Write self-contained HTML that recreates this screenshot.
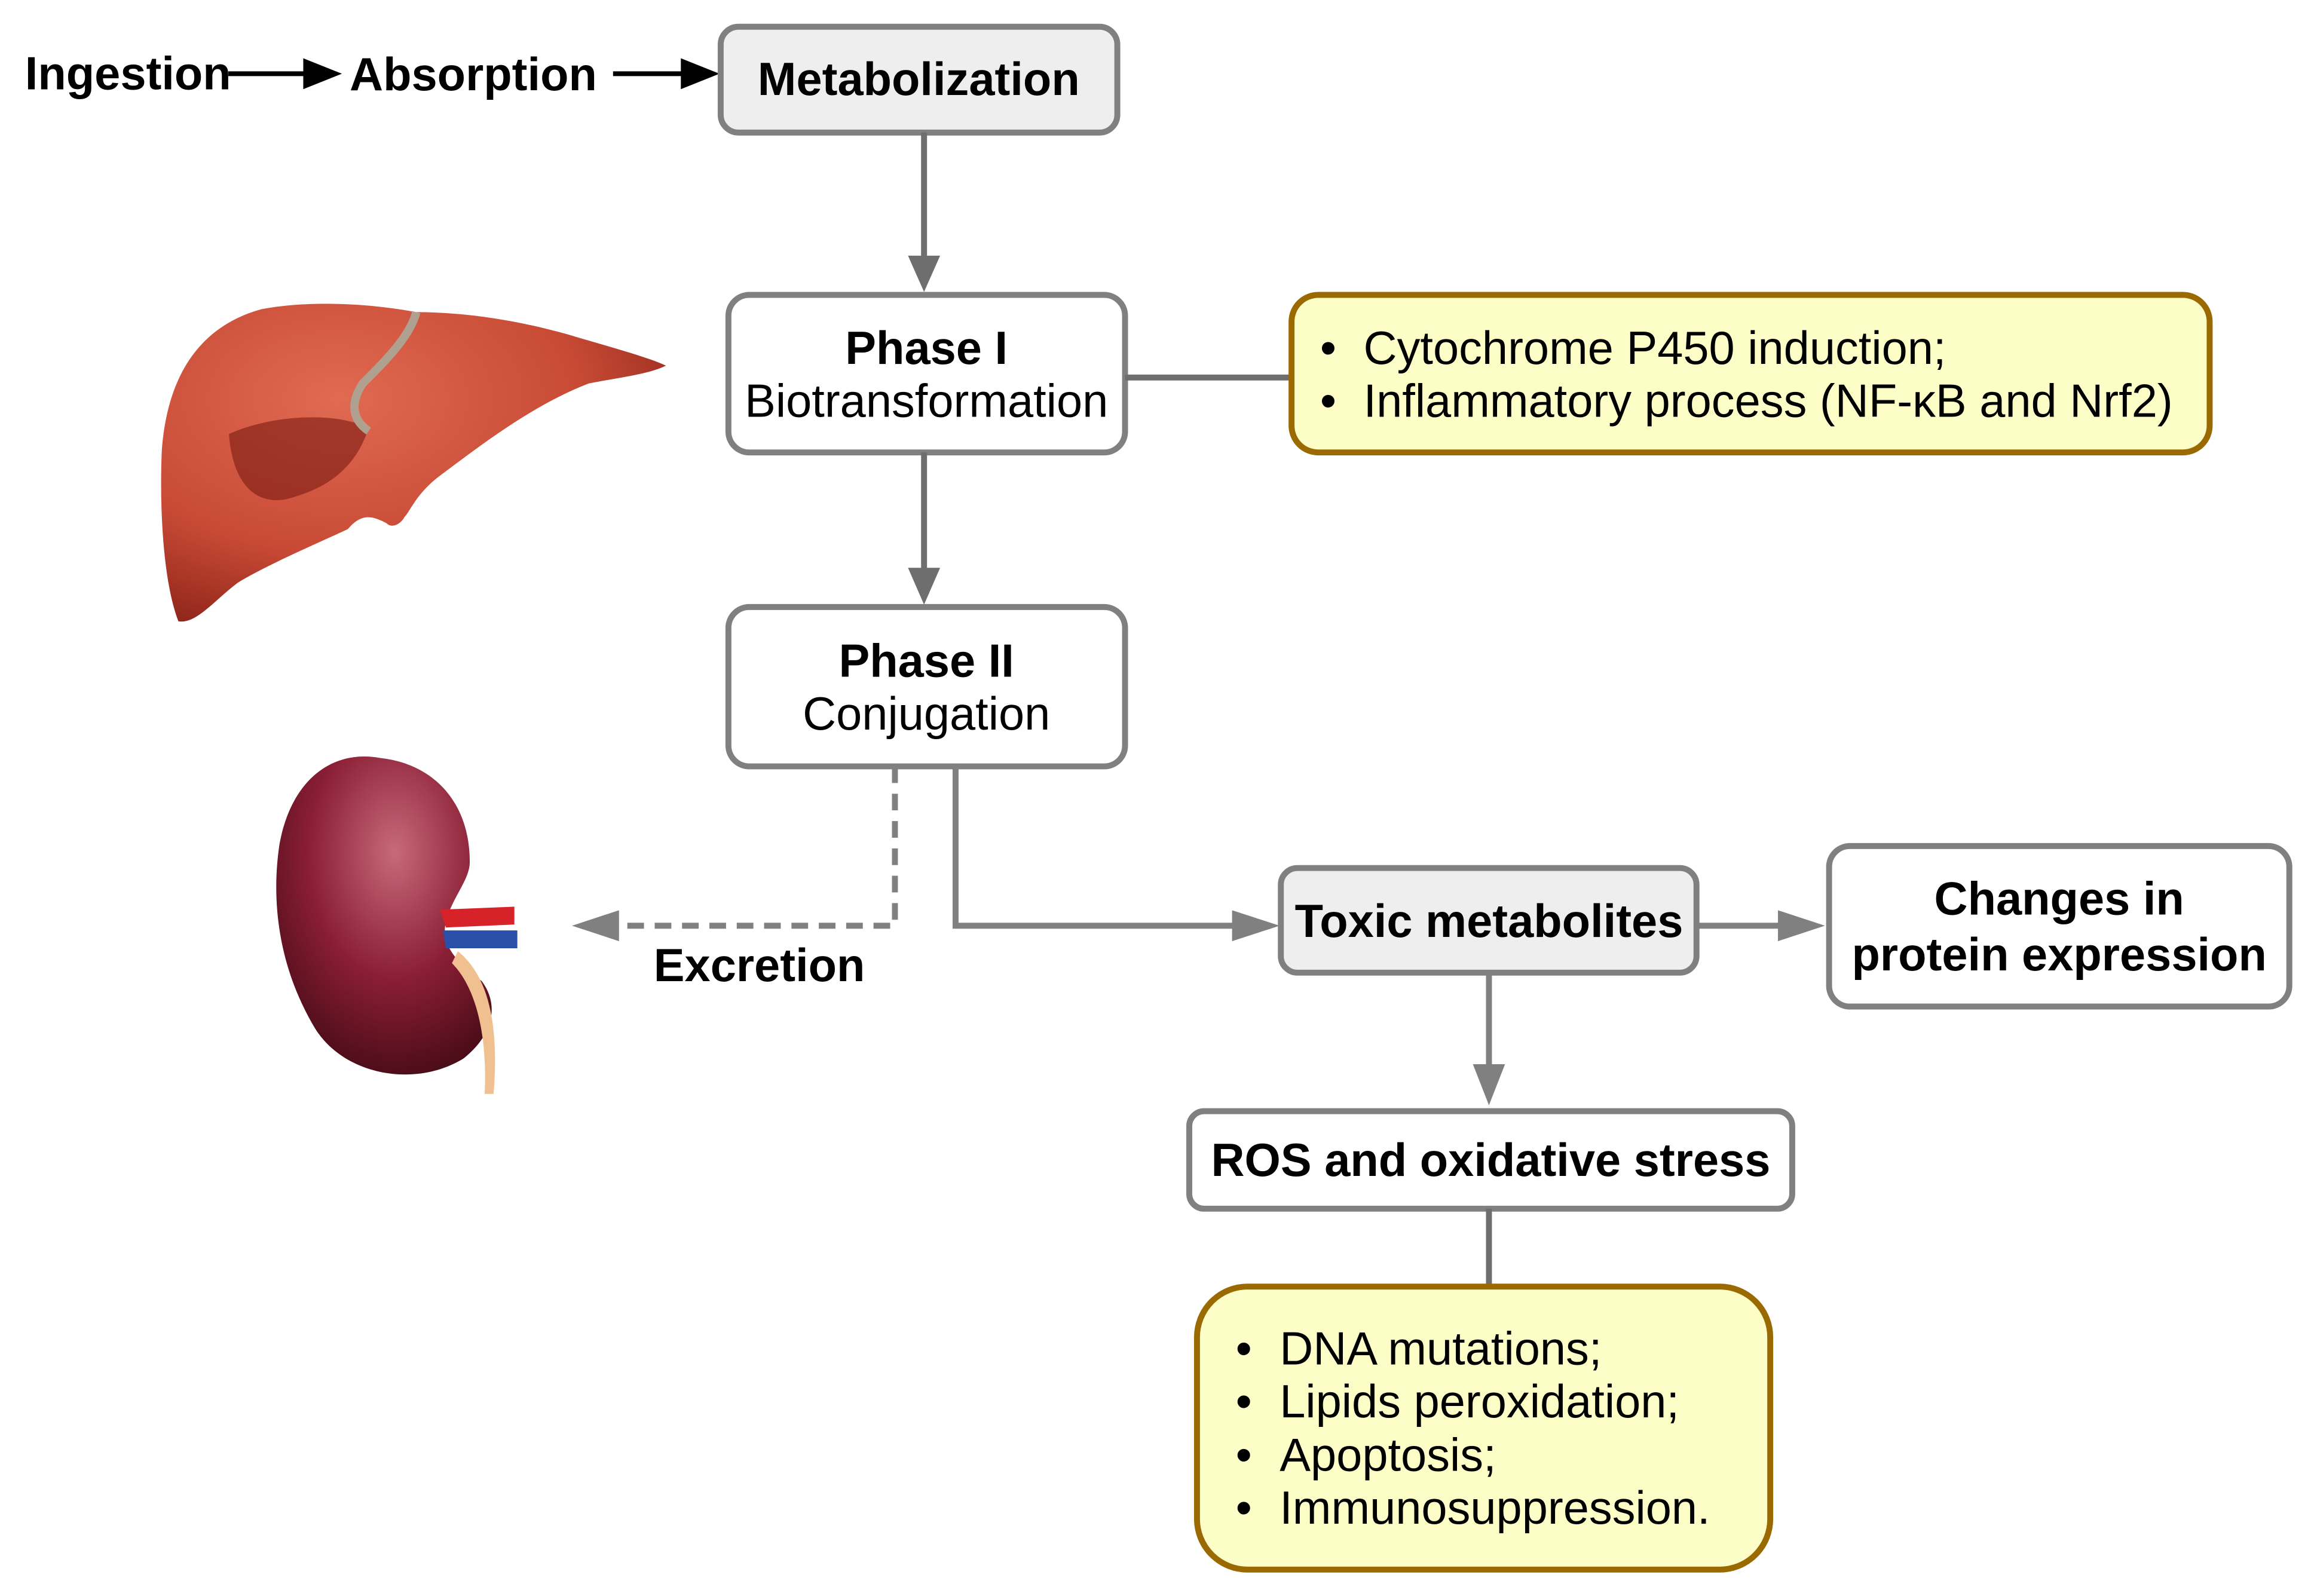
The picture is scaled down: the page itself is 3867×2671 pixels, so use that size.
<!DOCTYPE html>
<html><head><meta charset="utf-8"><style>
html,body{margin:0;padding:0;background:#fff}
svg{display:block}
text{font-family:"Liberation Sans",Arial,sans-serif;fill:#000}
.b{font-weight:bold}
</style></head><body>
<svg width="3867" height="2671" viewBox="0 0 3867 2671" xmlns="http://www.w3.org/2000/svg">
<defs>
<radialGradient id="lv" cx="0.35" cy="0.3" r="0.8"><stop offset="0" stop-color="#e06a52"/><stop offset="0.6" stop-color="#c84a35"/><stop offset="1" stop-color="#8a2218"/></radialGradient>
<radialGradient id="kd" cx="0.55" cy="0.3" r="0.8"><stop offset="0" stop-color="#c76a7a"/><stop offset="0.5" stop-color="#8a1e35"/><stop offset="1" stop-color="#3a0810"/></radialGradient>
</defs>
<g transform="scale(0.995)">
<text x="42" y="150" font-size="78" class="b">Ingestion</text>
<line x1="384" y1="124" x2="520" y2="124" stroke="#000" stroke-width="8"/>
<polygon points="510,98 575,124 510,150" fill="#000"/>
<text x="588" y="152" font-size="78" class="b">Absorption</text>
<line x1="1031" y1="124" x2="1150" y2="124" stroke="#000" stroke-width="8"/>
<polygon points="1145,98 1210,124 1145,150" fill="#000"/>

<rect x="1212" y="45" width="667" height="178" rx="30" fill="#eeeeee" stroke="#808080" stroke-width="10"/>
<text x="1545" y="160" font-size="78" class="b" text-anchor="middle">Metabolization</text>

<line x1="1554" y1="223" x2="1554" y2="440" stroke="#6e6e6e" stroke-width="10"/>
<polygon points="1527,430 1581,430 1554,491" fill="#6e6e6e"/>

<rect x="1225" y="496" width="667" height="265" rx="35" fill="#fff" stroke="#808080" stroke-width="10"/>
<text x="1558" y="612" font-size="78" class="b" text-anchor="middle">Phase I</text>
<text x="1558" y="701" font-size="78" text-anchor="middle">Biotransformation</text>

<line x1="1892" y1="635" x2="2172" y2="635" stroke="#6e6e6e" stroke-width="10"/>
<rect x="2172" y="496" width="1544" height="265" rx="45" fill="#fdfdc8" stroke="#9a6a00" stroke-width="10"/>
<text x="2220" y="612" font-size="78">•</text>
<text x="2293" y="612" font-size="78">Cytochrome P450 induction;</text>
<text x="2220" y="701" font-size="78">•</text>
<text x="2293" y="701" font-size="78">Inflammatory process (NF-κB and Nrf2)</text>

<line x1="1554" y1="761" x2="1554" y2="965" stroke="#6e6e6e" stroke-width="10"/>
<polygon points="1527,955 1581,955 1554,1017" fill="#6e6e6e"/>

<rect x="1225" y="1021" width="667" height="268" rx="35" fill="#fff" stroke="#808080" stroke-width="10"/>
<text x="1558" y="1138" font-size="78" class="b" text-anchor="middle">Phase II</text>
<text x="1558" y="1227" font-size="78" text-anchor="middle">Conjugation</text>

<polyline points="1505,1289 1505,1557 1035,1557" fill="none" stroke="#808080" stroke-width="10" stroke-dasharray="28,18"/>
<polygon points="1041,1531 1041,1583 962,1557" fill="#808080"/>
<text x="1277" y="1650" font-size="78" class="b" text-anchor="middle">Excretion</text>

<polyline points="1607,1289 1607,1557 2080,1557" fill="none" stroke="#808080" stroke-width="10"/>
<polygon points="2072,1531 2072,1583 2152,1557" fill="#808080"/>

<rect x="2154" y="1460" width="699" height="176" rx="28" fill="#eeeeee" stroke="#808080" stroke-width="10"/>
<text x="2504" y="1576" font-size="78" class="b" text-anchor="middle">Toxic metabolites</text>

<line x1="2853" y1="1557" x2="3000" y2="1557" stroke="#808080" stroke-width="10"/>
<polygon points="2990,1531 2990,1583 3069,1557" fill="#808080"/>

<rect x="3076" y="1423" width="774" height="270" rx="35" fill="#fff" stroke="#808080" stroke-width="10"/>
<text x="3463" y="1538" font-size="78" class="b" text-anchor="middle">Changes in</text>
<text x="3463" y="1632" font-size="78" class="b" text-anchor="middle">protein expression</text>

<line x1="2504" y1="1636" x2="2504" y2="1800" stroke="#808080" stroke-width="10"/>
<polygon points="2477,1790 2531,1790 2504,1859" fill="#808080"/>

<rect x="2000" y="1869" width="1014" height="164" rx="25" fill="#fff" stroke="#808080" stroke-width="10"/>
<text x="2507" y="1978" font-size="78" class="b" text-anchor="middle">ROS and oxidative stress</text>

<line x1="2504" y1="2033" x2="2504" y2="2164" stroke="#6e6e6e" stroke-width="10"/>
<rect x="2013" y="2164" width="964" height="476" rx="85" fill="#fdfdc8" stroke="#9a6a00" stroke-width="10"/>
<text x="2078" y="2295" font-size="78">•</text><text x="2152" y="2295" font-size="78">DNA mutations;</text>
<text x="2078" y="2384" font-size="78">•</text><text x="2152" y="2384" font-size="78">Lipids peroxidation;</text>
<text x="2078" y="2474" font-size="78">•</text><text x="2152" y="2474" font-size="78">Apoptosis;</text>
<text x="2078" y="2563" font-size="78">•</text><text x="2152" y="2563" font-size="78">Immunosuppression.</text>

<!-- liver -->
<path d="M300,1045 C275,980 268,860 272,760 C280,640 330,550 440,520 C520,505 620,510 700,525 C800,525 900,545 980,570 C1050,590 1100,605 1120,615 C1090,630 1040,635 990,645 C900,680 820,740 740,800 C700,830 690,860 680,870 C675,880 660,890 650,880 C630,870 610,860 585,890 C520,920 450,950 400,980 C360,1010 330,1050 300,1045 Z" fill="url(#lv)"/>
<path d="M385,730 C450,700 560,690 620,720 C600,780 560,820 480,840 C420,850 390,800 385,730 Z" fill="#7a1a12" opacity="0.6"/>
<path d="M700,525 C690,565 650,605 610,645 C590,675 590,705 620,725" fill="none" stroke="#b0a090" stroke-width="14"/>

<!-- kidney -->
<path d="M640,1275 C560,1260 490,1310 470,1420 C455,1520 470,1630 530,1730 C580,1810 700,1830 780,1780 C830,1740 840,1690 810,1650 C770,1620 740,1590 750,1550 C760,1510 790,1480 790,1450 C790,1350 730,1285 640,1275 Z" fill="url(#kd)"/>
<path d="M740,1530 L865,1525 L865,1555 L750,1560 Z" fill="#d8222a"/>
<path d="M745,1565 L870,1565 L870,1595 L750,1595 Z" fill="#2a4fa8"/>
<path d="M770,1600 C820,1640 840,1720 830,1840 L815,1840 C820,1740 800,1660 760,1620 Z" fill="#f0c090"/>
</g>
</svg>
</body></html>
